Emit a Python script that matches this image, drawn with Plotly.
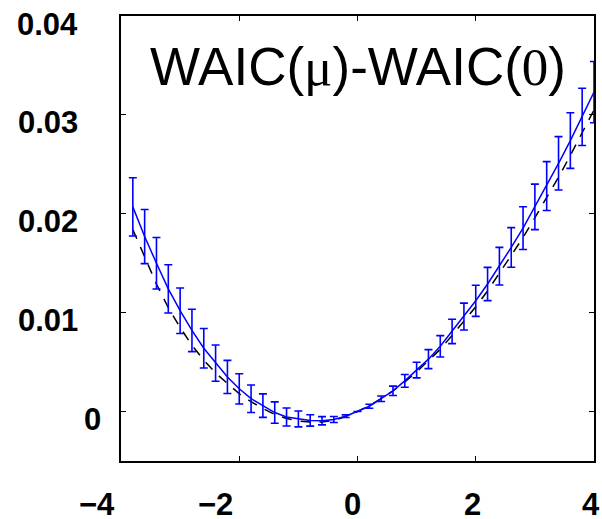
import plotly.graph_objects as go

# Grid of mu values
mu = [round(-3.8 + 0.2 * i, 1) for i in range(40)]

# Simulated WAIC(mu)-WAIC(0): mean over trials
waic_mean = [
    0.0207, 0.0177, 0.0150, 0.0124, 0.0102, 0.0082, 0.0064, 0.0049, 0.0035, 0.0023,
    0.0013, 0.0006, -0.0001, -0.00055, -0.00075, -0.0009, -0.00093, -0.0008, -0.00047, 0.0,
    0.00054, 0.0013, 0.0021, 0.0031, 0.0042, 0.0053, 0.0066, 0.0081, 0.0096, 0.0112,
    0.0129, 0.0147, 0.0166, 0.01855, 0.0207, 0.0228, 0.0251, 0.0274, 0.0298, 0.0323,
]

# Error bar half-widths
waic_err = [
    0.00295, 0.00274, 0.0026, 0.00244, 0.0023, 0.00214, 0.0020, 0.00183, 0.00168, 0.00153,
    0.00139, 0.00119, 0.00108, 0.00091, 0.0008, 0.00057, 0.00042, 0.0003, 0.00013, 0.0,
    0.0002, 0.00028, 0.00047, 0.00064, 0.00079, 0.00096, 0.00108, 0.00123, 0.00136, 0.00158,
    0.00168, 0.0019, 0.0020, 0.00216, 0.0023, 0.00247, 0.0027, 0.00281, 0.0029, 0.0031,
]

# Theoretical curve
theory = [
    0.0184, 0.0156, 0.0129, 0.0105, 0.0085, 0.0067, 0.0052, 0.0039, 0.0028, 0.0018,
    0.0010, 0.0003, -0.0003, -0.0007, -0.00095, -0.00105, -0.00105, -0.0009, -0.0005, 0.0,
    0.0006, 0.0013, 0.0021, 0.0030, 0.0040, 0.0051, 0.0063, 0.0077, 0.0091, 0.0106,
    0.0122, 0.0140, 0.0157, 0.0176, 0.0196, 0.0216, 0.0237, 0.0259, 0.0282, 0.0305,
]

x_tick_vals = [-4, -2, 0, 2, 4]
x_tick_text = ["\u22124", "\u22122", "0", "2", "4"]
y_tick_vals = [0, 0.01, 0.02, 0.03, 0.04]
y_tick_text = ["0", "0.01", "0.02", "0.03", "0.04"]

SANS = "Liberation Sans, Arial, sans-serif"
SERIF = "Liberation Serif, Times New Roman, serif"

fig = go.Figure()

fig.add_trace(go.Scatter(
    x=mu, y=theory, mode="lines",
    line=dict(color="black", width=1.5, dash="10px,9px"),
    hoverinfo="skip",
))

fig.add_trace(go.Scatter(
    x=mu, y=waic_mean, mode="lines",
    line=dict(color="#0000ff", width=1.5),
    error_y=dict(type="data", array=waic_err, visible=True,
                 color="#0000ff", thickness=1.6, width=4),
))

annotations = []
# x tick labels (minus-signed labels sit left of their ticks)
x_shifts = [-24, -24, -5, -3, -3]
for v, t, s in zip(x_tick_vals, x_tick_text, x_shifts):
    annotations.append(dict(
        x=v, xref="x", y=0, yref="paper", text=f"<b>{t}</b>",
        showarrow=False, xanchor="center", yanchor="middle",
        xshift=s, yshift=-43, font=dict(family=SANS, size=31, color="black"),
    ))
# y tick labels
for v, t in zip(y_tick_vals, y_tick_text):
    annotations.append(dict(
        x=0, xref="paper", y=v, yref="y", text=f"<b>{t}</b>",
        showarrow=False, xanchor="right", yanchor="middle",
        xshift=-18 if t == "0" else -41, yshift=-8,
        font=dict(family=SANS, size=31, color="black"),
    ))
# In-plot title
annotations.append(dict(
    x=0, xref="x", y=0.0349, yref="y",
    text=(f'WAIC(<span style="font-family:{SERIF}">\u03bc</span>)-WAIC('
          f'<span style="font-family:{SERIF}">0</span>)'),
    showarrow=False, xanchor="center", yanchor="middle",
    font=dict(family=SANS, size=53, color="black"),
))

axis_common = dict(
    showline=True, linecolor="black", linewidth=2, mirror="ticks",
    ticks="inside", ticklen=5, tickwidth=1, tickcolor="black",
    showgrid=False, zeroline=False, showticklabels=False,
)

fig.update_xaxes(range=[-4, 4], tickvals=x_tick_vals, **axis_common)
fig.update_yaxes(range=[-0.005, 0.04], tickvals=y_tick_vals, **axis_common)

fig.update_layout(
    width=602, height=519,
    margin=dict(l=121, r=6, t=16, b=58),
    paper_bgcolor="white", plot_bgcolor="white",
    showlegend=False,
    annotations=annotations,
)

fig.write_html("out.html")
